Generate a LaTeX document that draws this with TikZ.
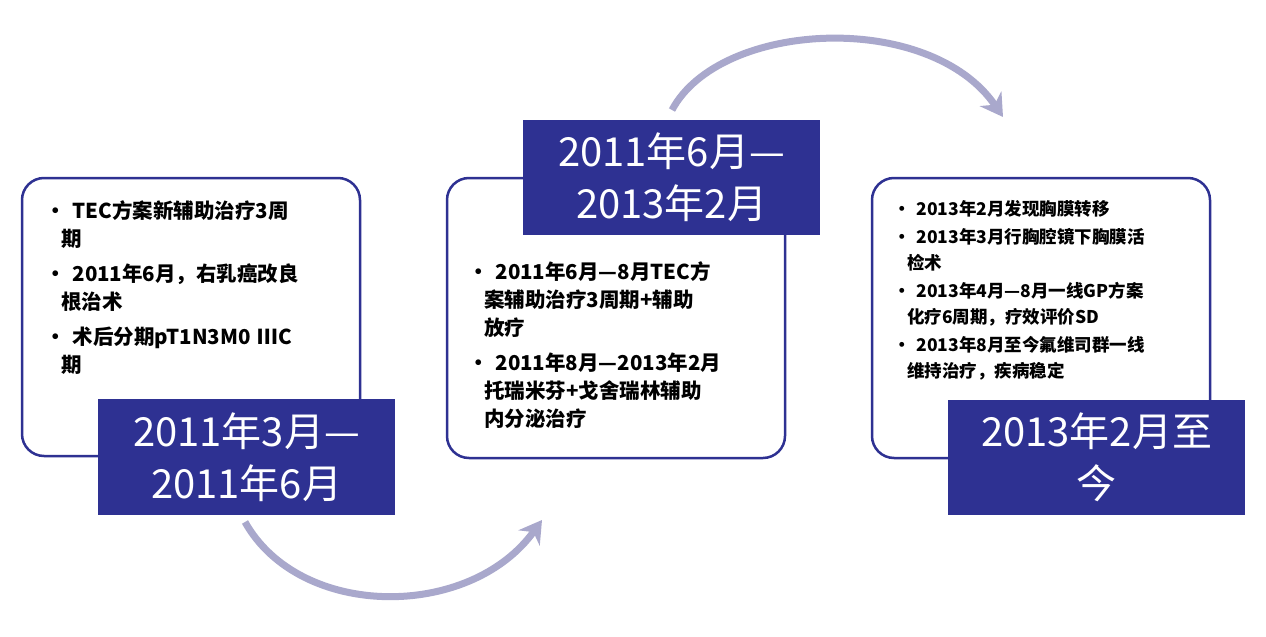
\documentclass[tikz,border=0pt]{standalone}
\usepackage{fontspec}
\setmainfont{Liberation Sans}
\newfontfamily\cjk{Noto Sans CJK SC}
\usetikzlibrary{arrows.meta}
\definecolor{navy}{HTML}{2E3192}
\definecolor{lav}{HTML}{A9A8CC}
\tikzset{
 card/.style={draw=navy,line width=2.5pt,rounded corners=22pt,fill=white},
 tag/.style={fill=navy,text=white,font=\cjk\fontsize{40}{52}\selectfont,align=center,inner sep=0pt},
 txt/.style={anchor=north west,font=\cjk\bfseries\fontsize{20.5}{28}\selectfont,align=left,inner sep=0pt},
 arc/.style={draw=lav,line width=7pt,-{Stealth[length=22pt,width=26pt]}}
}
\begin{document}
\begin{tikzpicture}[x=1pt,y=-1pt]
\useasboundingbox (0,0) rectangle (1266,637);
\fill[white] (0,0) rectangle (1266,637);
% arcs
\coordinate (a1s) at (245,522); \coordinate (a1e) at (542,520);
\draw[arc] (a1s) .. controls (300,620) and (470,620) .. (a1e);
\coordinate (a2s) at (672,110); \coordinate (a2e) at (1003,117);
\draw[arc] (a2s) .. controls (720,20) and (930,10) .. (a2e);
% cards
\draw[card] (22,178) rectangle (360,456);
\draw[card] (447,178) rectangle (785,458);
\draw[card] (872,178) rectangle (1210,458);
\node[tag,minimum width=297pt,minimum height=116pt] (t1) at (246.5,457) {2011年3月—\\2011年6月};
\node[tag,minimum width=297pt,minimum height=115pt] (t2) at (671.5,177.5) {2011年6月—\\2013年2月};
\node[tag,minimum width=297pt,minimum height=115pt] (t3) at (1096.5,457.5) {2013年2月至\\今};
\node[txt,text width=300pt] (x1) at (45,200) {%
\textbullet\ TEC方案新辅助治疗3周\\\hspace*{16pt}期\\[7pt]
\textbullet\ 2011年6月，右乳癌改良\\\hspace*{16pt}根治术\\[7pt]
\textbullet\ 术后分期pT1N3M0 ⅢC\\\hspace*{16pt}期};
\node[txt,text width=300pt] (x2) at (468,261) {%
\textbullet\ 2011年6月—8月TEC方\\\hspace*{16pt}案辅助治疗3周期+辅助\\\hspace*{16pt}放疗\\[7pt]
\textbullet\ 2011年8月—2013年2月\\\hspace*{16pt}托瑞米芬+戈舍瑞林辅助\\\hspace*{16pt}内分泌治疗};
\node[txt,text width=320pt,font=\cjk\bfseries\fontsize{17.5}{26}\selectfont] (x3) at (893,200) {%
\textbullet\ 2013年2月发现胸膜转移\\[2pt]
\textbullet\ 2013年3月行胸腔镜下胸膜活\\\hspace*{14pt}检术\\[2pt]
\textbullet\ 2013年4月—8月一线GP方案\\\hspace*{14pt}化疗6周期，疗效评价SD\\[2pt]
\textbullet\ 2013年8月至今氟维司群一线\\\hspace*{14pt}维持治疗，疾病稳定};
\end{tikzpicture}
\end{document}
